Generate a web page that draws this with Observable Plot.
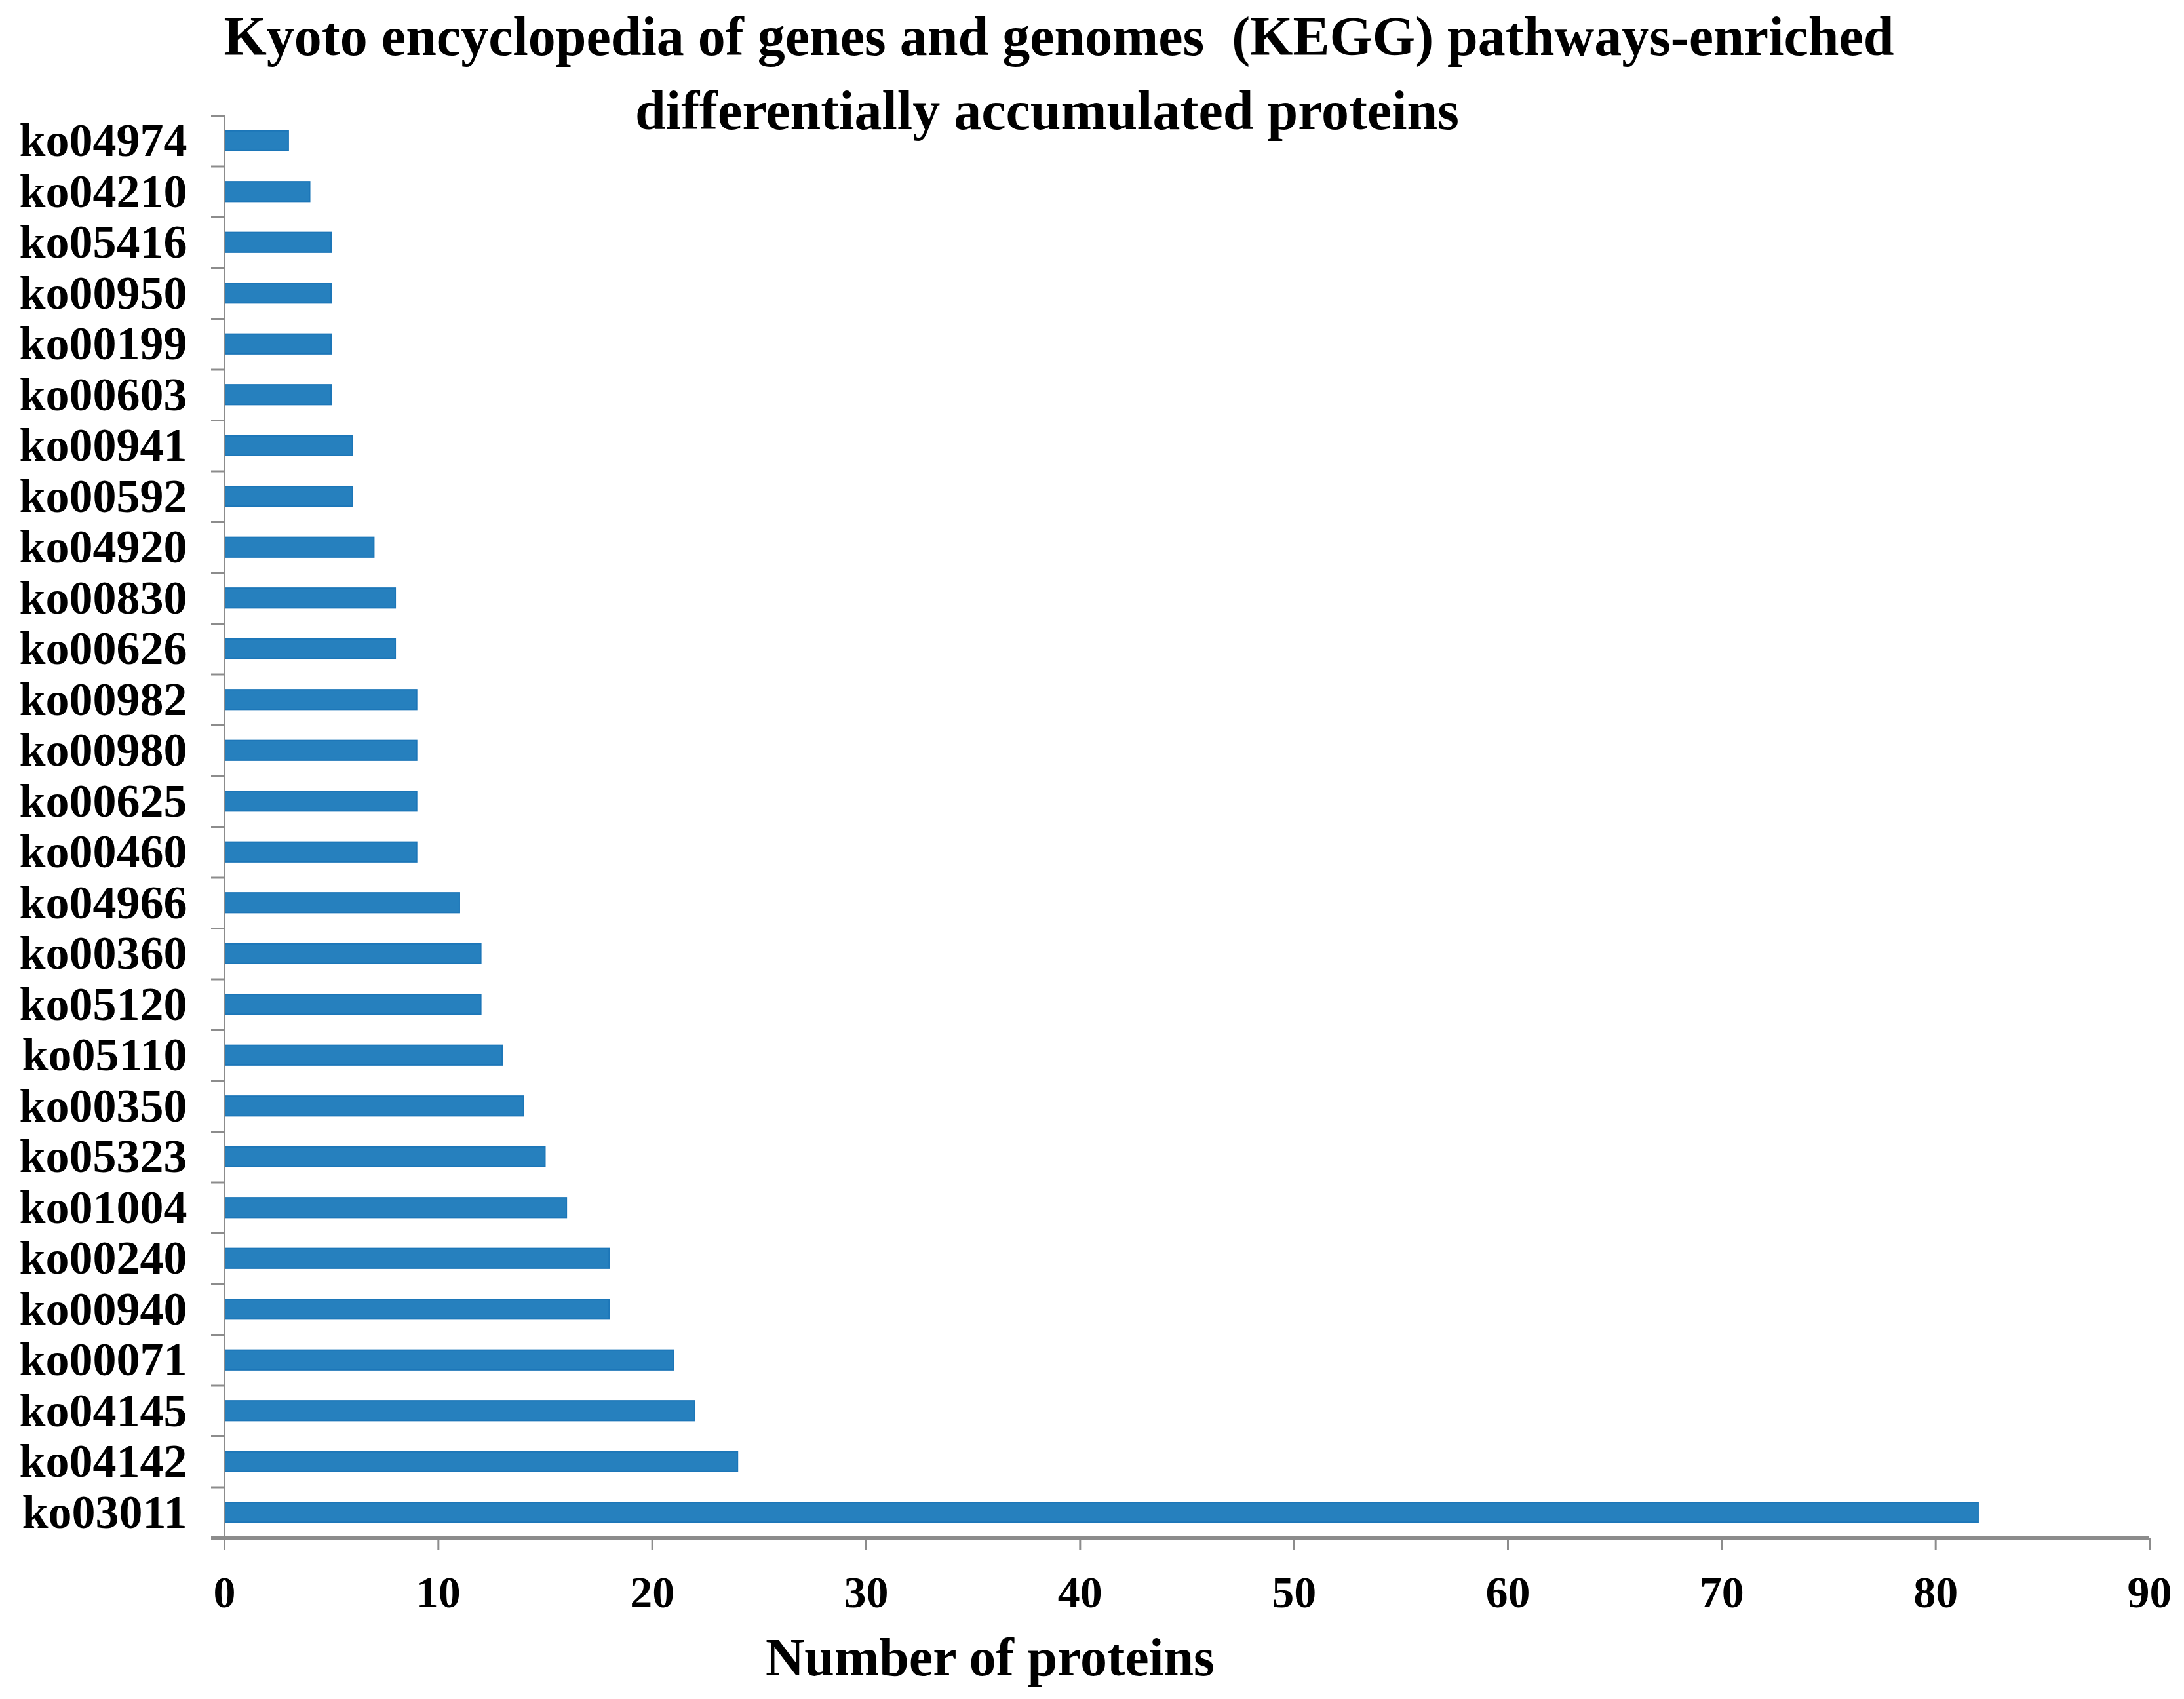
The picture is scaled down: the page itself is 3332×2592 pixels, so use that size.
<!DOCTYPE html>
<html>
<head>
<meta charset="utf-8">
<script src="https://cdn.jsdelivr.net/npm/d3@7"></script>
<script src="https://cdn.jsdelivr.net/npm/@observablehq/plot@0.6"></script>
<style>
  html, body { margin: 0; padding: 0; background: #fff; }
</style>
</head>
<body>
<div id="chart"></div>
<script>
// Data
const categories = [
  "ko04974","ko04210","ko05416","ko00950","ko00199","ko00603","ko00941",
  "ko00592","ko04920","ko00830","ko00626","ko00982","ko00980","ko00625",
  "ko00460","ko04966","ko00360","ko05120","ko05110","ko00350","ko05323",
  "ko01004","ko00240","ko00940","ko00071","ko04145","ko04142","ko03011"
];
const proteinCounts = [
  3, 4, 5, 5, 5, 5, 6,
  6, 7, 8, 8, 9, 9, 9,
  9, 11, 12, 12, 13, 14, 15,
  16, 18, 18, 21, 22, 24, 82
];
const xTicks = [0, 10, 20, 30, 40, 50, 60, 70, 80, 90];
const titleLine1 = "Kyoto encyclopedia of genes and genomes  (KEGG) pathways-enriched";
const titleLine2 = "differentially accumulated proteins";
const xLabel = "Number of proteins";

const data = categories.map((c, i) => ({category: c, count: proteinCounts[i]}));

const W = 3332, H = 2592;
const mL = 342, mR = 53, mT = 176, mB = 246;
const step = (H - mT - mB) / categories.length;
const frameCx = (mL + (W - mR)) / 2;
const axisColor = "#8c8c8c";
const font = '"Liberation Serif", "Times New Roman", serif';

const chart = Plot.plot({
  width: W,
  height: H,
  marginLeft: mL,
  marginRight: mR,
  marginTop: mT,
  marginBottom: mB,
  style: {fontFamily: font, fontWeight: "bold", background: "#fff", color: "#000", overflow: "visible"},
  x: {domain: [0, 90], ticks: xTicks},
  y: {domain: categories, paddingInner: 0.61, paddingOuter: 0.305, round: false},
  marks: [
    Plot.barX(data, {x: "count", y: "category", fill: "#2680be", stroke: "#1c76b8", strokeWidth: 2}),
    // y-axis line
    Plot.ruleX([0], {stroke: axisColor, strokeWidth: 3}),
    // y-axis category labels
    Plot.axisY({tickSize: 0, tickPadding: 57, fontSize: 72, label: null, fill: "#000"}),
    // boundary ticks between categories
    Plot.axisY({tickSize: 20, dy: -step / 2, tickFormat: () => "", label: null, stroke: axisColor, strokeWidth: 3}),
    Plot.axisY([categories[categories.length - 1]], {tickSize: 20, dy: step / 2, tickFormat: () => "", label: null, stroke: axisColor, strokeWidth: 5}),
    // x-axis line
    Plot.ruleY([categories[categories.length - 1]], {x1: 0, x2: 90, dy: step / 2, stroke: axisColor, strokeWidth: 5}),
    // x-axis ticks and labels
    Plot.axisX({ticks: xTicks, tickSize: 19, tickPadding: 38, fontSize: 68, label: null, stroke: axisColor, strokeWidth: 3, fill: "#000"}),
    // x-axis title
    Plot.text([xLabel], {frameAnchor: "bottom", lineAnchor: "bottom", dx: 1510 - frameCx, dy: 209, fontSize: 82, fontWeight: "bold", fill: "#000"}),
    // chart title
    Plot.text([titleLine1], {frameAnchor: "top", lineAnchor: "bottom", dx: 1615 - frameCx, dy: 83 - mT, fontSize: 84, fontWeight: "bold", fill: "#000"}),
    Plot.text([titleLine2], {frameAnchor: "top", lineAnchor: "bottom", dx: 1597 - frameCx, dy: 196 - mT, fontSize: 84, fontWeight: "bold", fill: "#000"})
  ]
});
document.getElementById("chart").appendChild(chart);
</script>
</body>
</html>
